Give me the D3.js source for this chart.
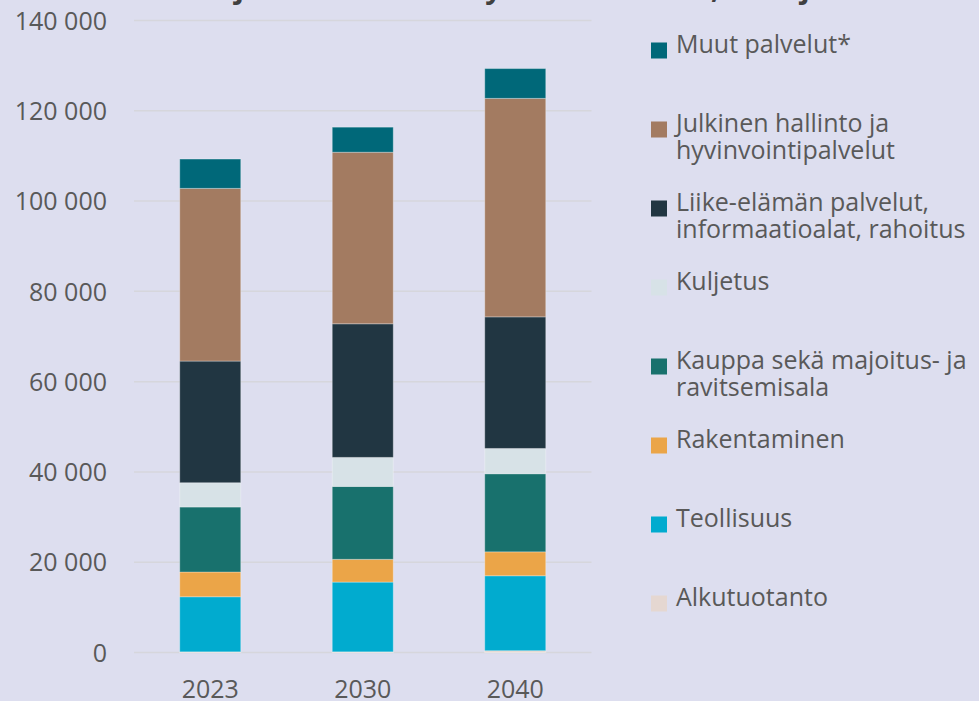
<!DOCTYPE html>
<html>
<head>
<meta charset="utf-8">
<script src="https://cdn.jsdelivr.net/npm/d3@7"></script>
<style>
  html, body { margin: 0; padding: 0; background: #dddeef; }
  svg { display: block; font-family: "Open Sans", sans-serif; }
</style>
</head>
<body>
<svg id="chart" width="979" height="701"></svg>
<script>
// years on the x axis
var years = ["2023", "2030", "2040"];

// series, bottom of stack first
var seriesKeys = ["alku", "teoll", "rak", "kauppa", "kuljetus", "liike", "julkinen", "muut"];
var seriesLabels = [
  ["Alkutuotanto"],
  ["Teollisuus"],
  ["Rakentaminen"],
  ["Kauppa sekä majoitus- ja", "ravitsemisala"],
  ["Kuljetus"],
  ["Liike-elämän palvelut,", "informaatioalat, rahoitus"],
  ["Julkinen hallinto ja", "hyvinvointipalvelut"],
  ["Muut palvelut*"]
];
var seriesColors = ["#e5d7d1", "#01abcf", "#eba548", "#18716d", "#d7e2e7", "#213642", "#a37b61", "#006879"];

// values per year, same order as seriesKeys
var alku     = [150, 150, 400];
var teoll    = [12200, 15450, 16600];
var rak      = [5480, 5040, 5300];
var kauppa   = [14400, 16150, 17300];
var kuljetus = [5380, 6430, 5600];
var liike    = [26950, 29600, 29150];
var julkinen = [38250, 38000, 48400];
var muut     = [6500, 5550, 6600];

var yTicks = [0, 20000, 40000, 60000, 80000, 100000, 120000, 140000];
// the title sits above the picture, only its descenders show
var titleText = "Toimialojen arvioitu kehitys vuosina 2023, 2030 ja 2040";

var valuesBySeries = [alku, teoll, rak, kauppa, kuljetus, liike, julkinen, muut];
var table = years.map(function(yr, i) {
  var row = {year: yr};
  seriesKeys.forEach(function(k, j) { row[k] = valuesBySeries[j][i]; });
  return row;
});

var svg = d3.select("#chart");
var plotL = 134, plotR = 591.5, plotT = 20.5, plotB = 652.5;

var x = d3.scaleBand().domain(years).range([plotL, plotR]).paddingInner(0.6).paddingOuter(0.3);
var y = d3.scaleLinear().domain([0, 140000]).range([plotB, plotT]);
var fmt = d3.formatLocale({decimal: ",", thousands: "\u00a0", grouping: [3], currency: ["", "€"]}).format(",");

// title
var title = svg.append("text")
  .attr("x", 0).attr("y", -2)
  .style("font-size", "25px").style("font-weight", "bold")
  .attr("fill", "#404040")
  .text(titleText);
// line the two "j" up with the reference marks
var j1 = titleText.indexOf("j"), j2 = titleText.lastIndexOf("j");
var n = title.node();
var d0 = n.getStartPositionOfChar(j2).x - n.getStartPositionOfChar(j1).x;
title.style("font-size", (25 * 566 / d0) + "px");
title.attr("x", 235 - n.getStartPositionOfChar(j1).x);

// grid
svg.append("g").selectAll("line").data(yTicks).enter().append("line")
  .attr("x1", plotL).attr("x2", plotR)
  .attr("y1", function(d) { return y(d); }).attr("y2", function(d) { return y(d); })
  .attr("stroke", "#d6d6dc").attr("stroke-width", 1.5);

// y axis
var yAxis = svg.append("g").attr("transform", "translate(107,0)")
  .call(d3.axisLeft(y).tickValues(yTicks).tickSize(0).tickPadding(0).tickFormat(fmt));
yAxis.select(".domain").remove();
yAxis.selectAll("text").attr("fill", "#595959").style("font-size", "25px")
  .style("font-family", "'Open Sans', sans-serif").attr("dy", "0.35em");

// stacked bars
var stacked = d3.stack().keys(seriesKeys)(table);
svg.append("g").selectAll("g").data(stacked).enter().append("g")
  .attr("fill", function(d, i) { return seriesColors[i]; })
  .selectAll("rect").data(function(d) { return d; }).enter().append("rect")
  .attr("x", function(d) { return x(d.data.year); })
  .attr("width", x.bandwidth())
  .attr("y", function(d) { return y(d[1]); })
  .attr("height", function(d) { return y(d[0]) - y(d[1]); })
  .attr("stroke", "#ffffff").attr("stroke-opacity", 0.3).attr("stroke-width", 1);

// x axis labels
var xAxis = svg.append("g").attr("transform", "translate(0," + plotB + ")")
  .call(d3.axisBottom(x).tickSize(0).tickPadding(0));
xAxis.select(".domain").remove();
xAxis.selectAll("text").attr("fill", "#595959").style("font-size", "25px")
  .style("font-family", "'Open Sans', sans-serif").attr("y", 45.5).attr("dy", null);

// legend, top of stack first
var legendOrder = d3.range(seriesKeys.length).reverse();
var lg = svg.append("g").selectAll("g").data(legendOrder).enter().append("g")
  .attr("transform", function(d, i) { return "translate(651," + (52.5 + i * 79) + ")"; });
lg.append("rect")
  .attr("x", 0).attr("y", -10).attr("width", 16).attr("height", 16)
  .attr("fill", function(d) { return seriesColors[d]; });
lg.append("text")
  .attr("x", 25).attr("y", 0)
  .attr("fill", "#595959").style("font-size", "25px")
  .selectAll("tspan").data(function(d) { return seriesLabels[d]; }).enter().append("tspan")
  .attr("x", 25).attr("dy", function(d, i) { return i ? 27 : 0; })
  .text(function(d) { return d; });
</script>
</body>
</html>
